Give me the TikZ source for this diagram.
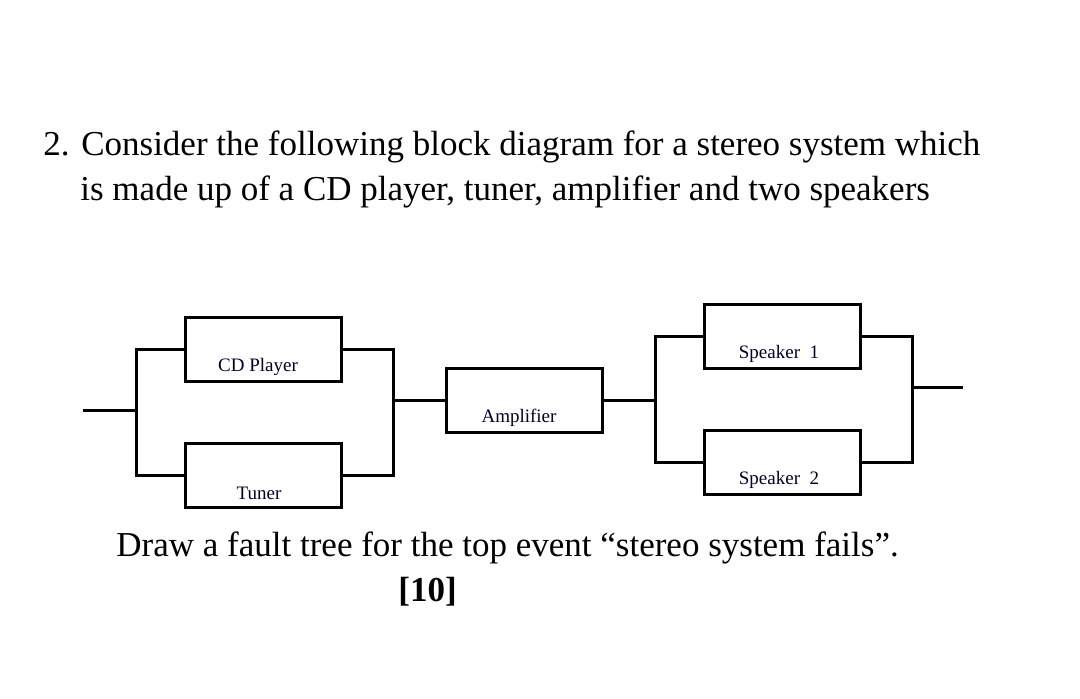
\documentclass[tikz,border=0pt]{standalone}
\usepackage{fontspec}
\setmainfont{Liberation Serif}
\begin{document}
\begin{tikzpicture}[x=0.5pt,y=-0.5pt,
  blk/.style={draw,line width=1.5pt,minimum width=78pt,minimum height=32pt,inner sep=0pt},
  lbl/.style={font=\fontsize{9.5}{10}\selectfont,text=black!85!blue},
  wire/.style={line width=1.5pt},
  big/.style={font=\fontsize{17.5}{22.5}\selectfont,inner sep=0pt}]
\useasboundingbox (0,0) rectangle (1080,698);
\node[blk] (cd) at (263,349) {};
\node[lbl] (cdl) at (258,367) {CD Player};
\node[blk] (tu) at (263,475) {};
\node[lbl] (tul) at (259,493) {Tuner};
\node[blk] (amp) at (524,400) {};
\node[lbl] (ampl) at (519,418) {Amplifier};
\node[blk] (s1) at (782,336) {};
\node[lbl] (s1l) at (779,354) {Speaker\ \ 1};
\node[blk] (s2) at (782,462) {};
\node[lbl] (s2l) at (779,480) {Speaker\ \ 2};
\coordinate (in) at (83,410);
\coordinate (out) at (963,387);
\coordinate (a1) at (136,410);
\coordinate (b1) at (393,400);
\coordinate (c1) at (655,400);
\coordinate (d1) at (912,387);
\draw[wire] (in) -- (a1);
\draw[wire] (cd.west) -- (136,349) -- (136,475) -- (tu.west);
\draw[wire] (cd.east) -- (393,349) -- (393,475) -- (tu.east);
\draw[wire] (b1) -- (amp.west);
\draw[wire] (amp.east) -- (c1);
\draw[wire] (s1.west) -- (655,336) -- (655,462) -- (s2.west);
\draw[wire] (s1.east) -- (912,336) -- (912,462) -- (s2.east);
\draw[wire] (d1) -- (out);
\node[big,anchor=base west] (t1) at (43,155) {2. Consider the following block diagram for a stereo system which};
\node[big,anchor=base west] (t2) at (80,200) {is made up of a CD player, tuner, amplifier and two speakers};
\node[big,anchor=base west] (t3) at (116,556) {Draw a fault tree for the top event “stereo system fails”.};
\node[big,anchor=base west,font=\fontsize{17.5}{22.5}\selectfont\bfseries] (t4) at (398,601) {[10]};
\end{tikzpicture}
\end{document}
